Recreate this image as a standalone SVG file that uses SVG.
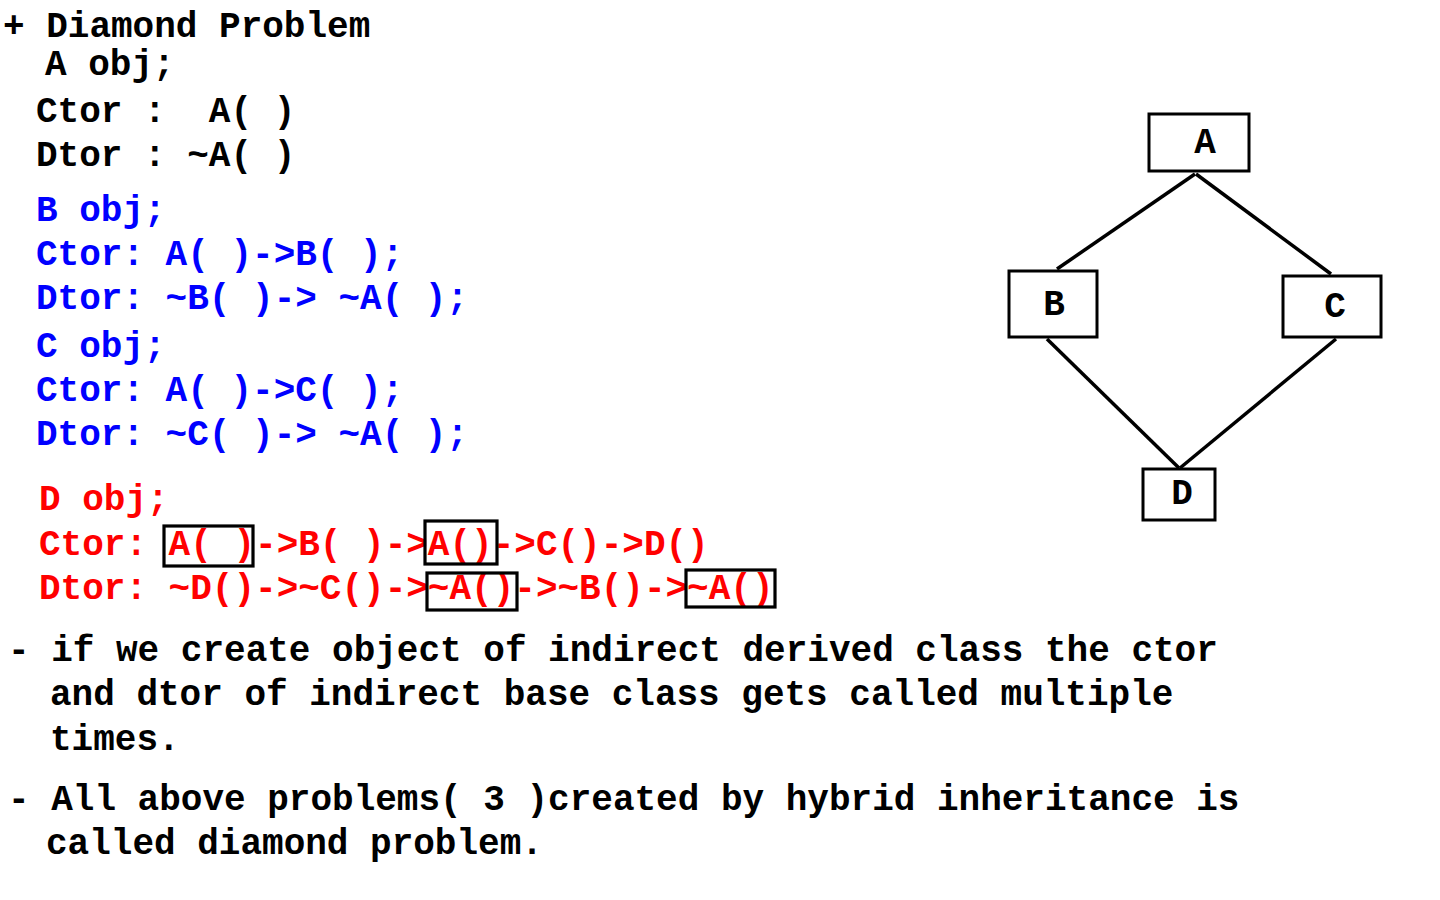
<svg xmlns="http://www.w3.org/2000/svg" width="1440" height="900" viewBox="0 0 1440 900">
<style>
text{font-family:"Liberation Mono","Courier New",monospace;font-weight:bold;font-size:36px;white-space:pre}
.k{fill:#000}
.b{fill:#0000FF}
.r{fill:#FF0000}
.box{fill:none;stroke:#000;stroke-width:3.2}
.node{fill:#fff;stroke:#000;stroke-width:3}
.edge{stroke:#000;stroke-width:3.5;fill:none}
.lbl{text-anchor:middle}
</style>
<rect width="1440" height="900" fill="#fff"/>
<g id="text-left" xml:space="preserve">
<text class="k" x="3" y="37">+ Diamond Problem</text>
<text class="k" x="45" y="75">A obj;</text>
<text class="k" x="36" y="122">Ctor :  A( )</text>
<text class="k" x="36" y="166">Dtor : ~A( )</text>
<text class="b" x="36" y="221">B obj;</text>
<text class="b" x="36" y="265">Ctor: A( )-&gt;B( );</text>
<text class="b" x="36" y="309">Dtor: ~B( )-&gt; ~A( );</text>
<text class="b" x="36" y="357">C obj;</text>
<text class="b" x="36" y="401">Ctor: A( )-&gt;C( );</text>
<text class="b" x="36" y="445">Dtor: ~C( )-&gt; ~A( );</text>
<text class="r" x="39" y="510">D obj;</text>
<text class="r" x="39" y="555">Ctor: A( )-&gt;B( )-&gt;A()-&gt;C()-&gt;D()</text>
<text class="r" x="39" y="599">Dtor: ~D()-&gt;~C()-&gt;~A()-&gt;~B()-&gt;~A()</text>
<text class="k" x="8" y="661">- if we create object of indirect derived class the ctor</text>
<text class="k" x="50" y="705">and dtor of indirect base class gets called multiple</text>
<text class="k" x="50" y="750">times.</text>
<text class="k" x="8" y="810">- All above problems( 3 )created by hybrid inheritance is</text>
<text class="k" x="46" y="854">called diamond problem.</text>
</g>
<g id="highlights">
<rect class="box" x="164" y="526" width="89" height="40"/>
<rect class="box" x="425" y="521" width="72" height="43"/>
<rect class="box" x="427" y="573" width="90" height="37"/>
<rect class="box" x="686" y="570" width="89" height="37"/>
</g>
<g id="connectors">
<line class="edge" x1="1195" y1="174" x2="1057" y2="269"/>
<line class="edge" x1="1196" y1="174" x2="1331" y2="274"/>
<line class="edge" x1="1047" y1="339" x2="1179" y2="468"/>
<line class="edge" x1="1336" y1="339" x2="1180" y2="468"/>
</g>
<g id="node-A">
<rect class="node" x="1149" y="114" width="100" height="57"/>
<text class="k lbl" x="1205" y="153">A</text>
</g>
<g id="node-B">
<rect class="node" x="1009" y="271" width="88" height="66"/>
<text class="k lbl" x="1054" y="315">B</text>
</g>
<g id="node-C">
<rect class="node" x="1283" y="276" width="98" height="61"/>
<text class="k lbl" x="1335" y="317">C</text>
</g>
<g id="node-D">
<rect class="node" x="1143" y="469" width="72" height="51"/>
<text class="k lbl" x="1182" y="504">D</text>
</g>
</svg>
